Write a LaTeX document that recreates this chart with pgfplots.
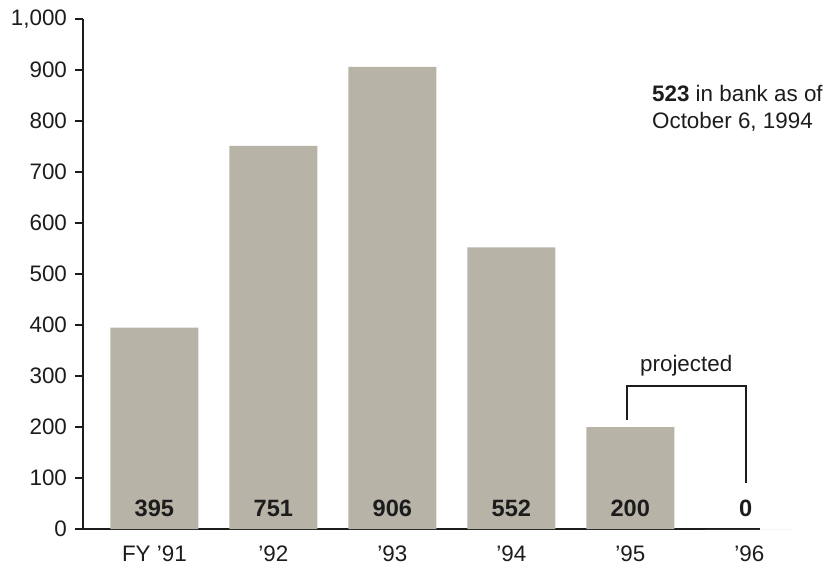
\documentclass[border=0pt]{standalone}
\usepackage{fontspec}
\setmainfont{Liberation Sans}
\usepackage{pgfplots}
\pgfplotsset{compat=1.18}
\usetikzlibrary{calc}
\definecolor{barc}{RGB}{183,179,167}
\definecolor{txt}{RGB}{28,28,28}
\begin{document}
\begin{tikzpicture}[font=\fontsize{11.2}{13.2}\selectfont, text=txt]
\begin{axis}[
  name=ax, at={(0,0)}, anchor=south west,
  scale only axis, width=338.5pt, height=255pt,
  xmin=-0.6, xmax=5.09, ymin=0, ymax=1000,
  axis x line=bottom, axis y line=left,
  axis line style={-, draw=txt, line width=0.8pt},
  x axis line style={-},
  xtick={0,1,2,3,4,5},
  xticklabels={FY ’91,’92,’93,’94,’95,’96},
  major x tick style={draw=none},
  ytick={0,100,...,1000},
  tick align=outside,
  major tick length=4pt,
  y tick style={draw=txt, line width=0.8pt},
  /pgf/number format/assume math mode=true,
  /pgf/number format/1000 sep={,},
  y tick label style={xshift=-0.5pt},
  x tick label style={yshift=-1pt},
  clip=false,
]
\addplot[ybar, bar width=0.74, fill=barc, draw=none] coordinates {
  (0,395) (1,751) (2,906) (3,552) (4,200) (5,0)
};
\node[font=\fontsize{11.8}{13.5}\selectfont\bfseries] at (axis cs:0,40) {395};
\node[font=\fontsize{11.8}{13.5}\selectfont\bfseries] at (axis cs:1,40) {751};
\node[font=\fontsize{11.8}{13.5}\selectfont\bfseries] at (axis cs:2,40) {906};
\node[font=\fontsize{11.8}{13.5}\selectfont\bfseries] at (axis cs:3,40) {552};
\node[font=\fontsize{11.8}{13.5}\selectfont\bfseries] at (axis cs:4,40) {200};
\node[font=\fontsize{11.8}{13.5}\selectfont\bfseries] at (axis cs:4.97,40) {0};
\draw[txt, line width=0.8pt] (axis cs:3.97,214) -- (axis cs:3.97,280) -- (axis cs:4.97,280) -- (axis cs:4.97,90);
\node[anchor=south] at (axis cs:4.47,286) {projected};
\node[anchor=west, align=left, inner sep=0pt] at (axis cs:4.18,825) {\textbf{523} in bank as of\\October 6, 1994};
\end{axis}
\pgfresetboundingbox
\path[use as bounding box] ($(ax.south west)+(-41.5pt,-20pt)$) rectangle ($(ax.south west)+(376pt,264.5pt)$);
\end{tikzpicture}
\end{document}
